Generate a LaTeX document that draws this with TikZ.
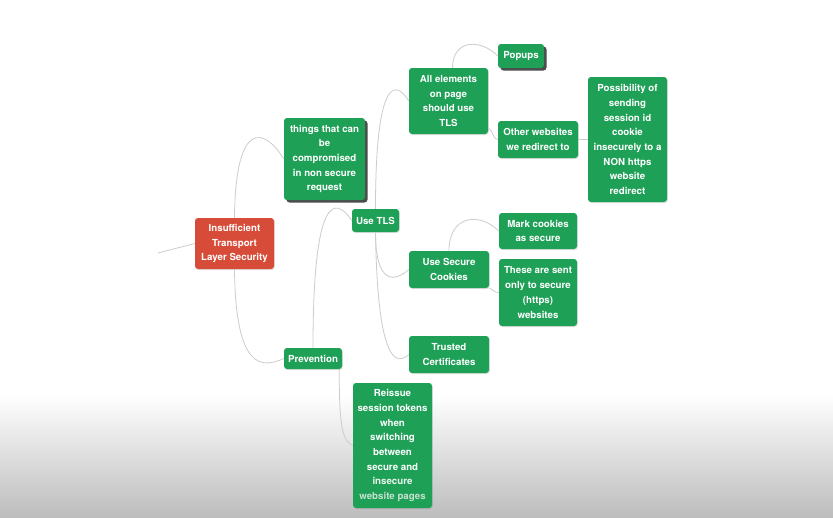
\documentclass[tikz,border=0pt]{standalone}
\usepackage{fontspec}
\setmainfont{TeX Gyre Heros}
\usetikzlibrary{shadows}
\definecolor{mapgreen}{RGB}{30,160,86}
\definecolor{mapred}{RGB}{214,76,56}
\definecolor{branchgray}{RGB}{204,204,204}
\definecolor{fadedtext}{RGB}{196,226,206}

\begin{document}
\begin{tikzpicture}[x=1pt, y=-1pt,
    topic/.style ={rounded corners=3pt, fill=mapgreen, text=white, align=center,
      inner sep=0pt, minimum width=79pt,
      font=\bfseries\fontsize{9.7}{14.7}\selectfont,
      drop shadow={shadow xshift=0.8pt, shadow yshift=-1pt, opacity=0.25}},
    rootnode/.style ={topic, fill=mapred},
    marked/.style ={drop shadow={shadow xshift=2.5pt, shadow yshift=-2.5pt, fill=black!70, opacity=1}},
    branch/.style ={draw=branchgray, line width=0.8pt}]
   \fill[white] (0,0) rectangle (833,517);
   \shade[top color=white, bottom color=black!26] (0,395) rectangle (833,517);
   \useasboundingbox (0,0) rectangle (833,517);

   \node[rootnode, minimum height=51pt] (root) at (234.5,243.5) {Insufficient\\Transport\\Layer Security};
   \node[topic, marked, minimum width=81pt, minimum height=82pt] (things) at (324.5,159) {things that can\\be\\compromised\\in non secure\\request};
   \node[topic, minimum width=58pt, minimum height=21pt] (prevention) at (313,358.5) {Prevention};
   \node[topic, minimum height=125pt] (reissue) at (392.5,445.5) {Reissue\\session tokens\\when\\switching\\between\\secure and\\\textcolor{white!92!mapgreen}{insecure}\\\textcolor{fadedtext}{website pages}};
   \node[topic, minimum width=47pt, minimum height=23pt] (tls) at (375.5,220.5) {Use TLS};
   \node[topic, minimum height=66pt] (elements) at (448.5,101) {All elements\\on page\\should use\\TLS};
   \node[topic, marked, minimum width=46pt, minimum height=24pt] (popups) at (521,56) {Popups};
   \node[topic, minimum width=80pt, minimum height=37pt] (redirect) at (538,139.5) {Other websites\\we redirect to};
   \node[topic, minimum height=125pt] (possib) at (627.5,139.5) {Possibility of\\sending\\session id\\cookie\\insecurely to a\\NON https\\website\\redirect};
   \node[topic, minimum width=80pt, minimum height=37pt] (cookies) at (449,269.5) {Use Secure\\Cookies};
   \node[topic, minimum width=78pt, minimum height=36pt] (mark) at (538,231) {Mark cookies\\as secure};
   \node[topic, minimum width=78pt, minimum height=67pt] (sent) at (538,292.5) {These are sent\\only to secure\\(https)\\websites};
   \node[topic, minimum width=80pt, minimum height=37pt] (certs) at (449,354.5) {Trusted\\Certificates};
   \coordinate (stub) at (158,253);

   \draw[branch] (root.west) -- (stub);
   \draw[branch] (root.north) .. controls +(1,-100) and +(-19,-31) .. (things.west);
   \draw[branch] (root.south) .. controls +(1,101) and +(-22,10) .. (prevention.west);
   \draw[branch] (prevention.north) .. controls +(0,-153) and +(-17,-25) .. (tls.west);
   \draw[branch] ([xshift=-3pt]prevention.south east) .. controls +(0,61) and +(-10,-5) .. (reissue.west);
   \draw[branch] (tls.north) .. controls +(0,-129) and +(-14,-23) .. (elements.west);
   \draw[branch] (tls.south) .. controls +(0,53) and +(-14,12.5) .. (cookies.west);
   \draw[branch] (tls.south) .. controls +(2,136) and +(-11,10) .. (certs.west);
   \draw[branch] ([xshift=4pt]elements.north) .. controls +(0,-28) and +(-18,-18) .. (popups.west);
   \draw[branch] ([yshift=6pt]elements.south east) .. controls +(5,2) and +(-5,0) .. (redirect.west);
   \draw[branch] (redirect.east) -- (possib.west);
   \draw[branch] (cookies.north) .. controls +(0,-36) and +(-19,-19) .. (mark.west);
   \draw[branch] (cookies.south east) .. controls +(5,2) and +(-5,0) .. (sent.west);
 \end{tikzpicture}
\end{document}
